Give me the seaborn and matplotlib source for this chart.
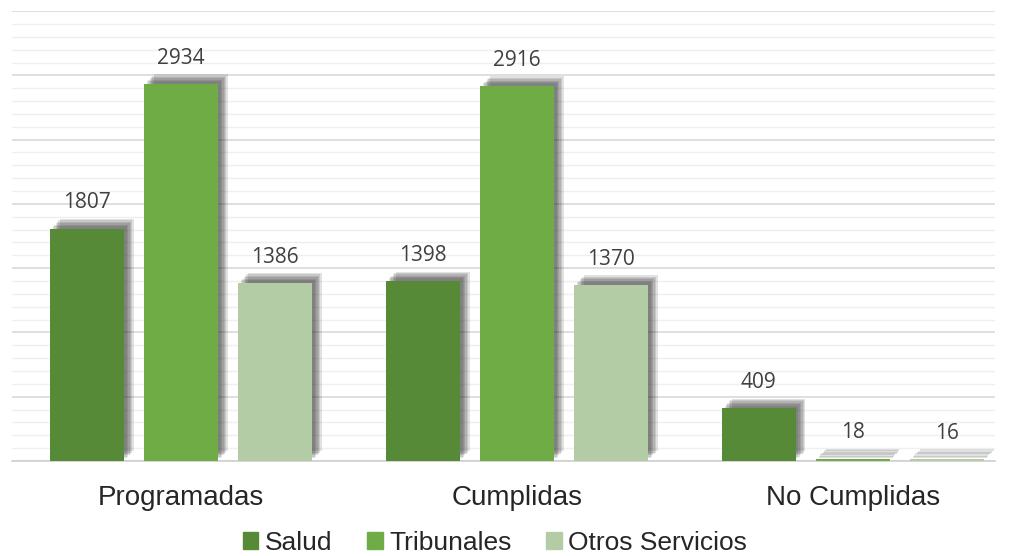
import pandas as pd
import numpy as np
import seaborn as sns
import matplotlib.pyplot as plt
import matplotlib.patheffects as pe
from matplotlib.ticker import MultipleLocator
from matplotlib.patches import Patch

# datos
estados = ["Programadas", "Cumplidas", "No Cumplidas"]
servicios = ["Salud", "Tribunales", "Otros Servicios"]
salud = [1807, 1398, 409]
tribunales = [2934, 2916, 18]
otros = [1386, 1370, 16]
colores = ["#568a36", "#6fac46", "#b3cca6"]

df = pd.DataFrame({
    "estado": estados * 3,
    "servicio": [s for s in servicios for _ in estados],
    "valor": salud + tribunales + otros,
})

sns.set_style("white")
fig = plt.figure(figsize=(10.1, 5.56), dpi=100)
ax = fig.add_axes([0.012, 0.171, 0.973, 0.809])

sns.barplot(data=df, x="estado", y="valor", hue="servicio", order=estados,
            hue_order=servicios, palette=colores, saturation=1, width=0.84, gap=0.214,
            linewidth=0, legend=False, ax=ax, zorder=3)

# sombra difusa tipo Excel
sombra = [pe.SimplePatchShadow(offset=(o, o), shadow_rgbFace="#303030", alpha=0.14)
          for o in (7, 6, 5, 4, 3, 2)]
for bar in ax.patches:
    bar.set_path_effects(sombra + [pe.Normal()])

for cont in ax.containers:
    ax.bar_label(cont, padding=11, fontsize=15, color="#404040", family="Open Sans")

ax.set_xlim(-0.503, 2.423)
ax.set_ylim(0, 3500)
ax.yaxis.set_major_locator(MultipleLocator(500))
ax.yaxis.set_minor_locator(MultipleLocator(100))
ax.grid(axis="y", which="major", color="#d9d9d9", lw=1.2, zorder=0)
ax.grid(axis="y", which="minor", color="#efefef", lw=1.0, zorder=0)
ax.set_axisbelow(True)
ax.tick_params(axis="y", which="both", left=False, labelleft=False)
ax.tick_params(axis="x", length=0, labelsize=20, pad=17)
for lbl in ax.get_xticklabels():
    lbl.set_family("Liberation Sans")
ax.set_xlabel("")
ax.set_ylabel("")
for s in ["top", "right", "left"]:
    ax.spines[s].set_visible(False)
ax.spines["bottom"].set_color("#d0d0d0")
ax.spines["bottom"].set_linewidth(1.2)

handles = [Patch(color=c, label=s) for c, s in zip(colores, servicios)]
fig.legend(handles=handles, loc="center", bbox_to_anchor=(0.49, 0.024), ncol=3,
           frameon=False, handlelength=0.6, handleheight=0.6, handletextpad=0.25,
           columnspacing=1.3, prop={"family": "Liberation Sans", "size": 19})

fig.savefig("out.png", dpi=100)
